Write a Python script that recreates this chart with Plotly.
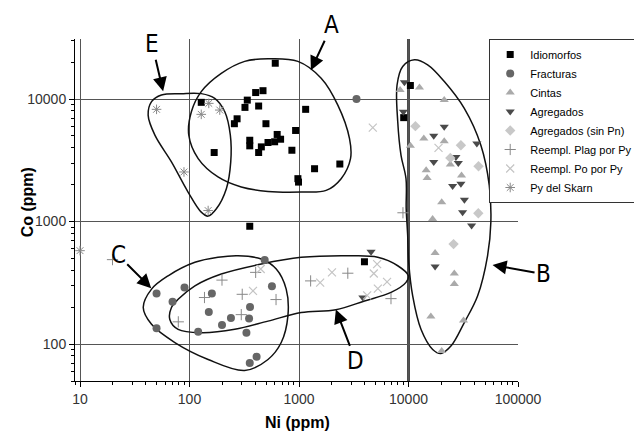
import numpy as np
import plotly.graph_objects as go

# ---------------- data (ppm) ----------------
idio_x = [607, 128, 402, 469, 337, 321, 428, 1150, 272, 257, 499, 931, 355, 355, 453, 428, 521, 632, 679, 599, 861, 168, 1387, 2360, 977, 990, 355, 3960, 10400, 9040]
idio_y = [19600, 9400, 11300, 11700, 9800, 8550, 8770, 8240, 6900, 6290, 6290, 5540, 4610, 4150, 4070, 3660, 4420, 5140, 4700, 4480, 3820, 3660, 2700, 2950, 2240, 2100, 916, 470, 12900, 7050]

frac_x = [3350, 50, 70, 90, 50, 120, 160, 150, 198, 239, 357, 350, 331, 566, 486, 410, 355]
frac_y = [10000, 259, 222, 290, 135, 126, 259, 183, 143, 163, 201, 162, 124, 297, 485, 79, 70]

cint_x = [12600, 8380, 21200, 13800, 21200, 10400, 24100, 14500, 14800, 30500, 20100, 16600, 17500, 26200, 26200, 16000, 31800, 20100]
cint_y = [12400, 11850, 9800, 4760, 4530, 4150, 2920, 2620, 2270, 2380, 1440, 1050, 553, 377, 310, 168, 156, 88]

agre_x = [9180, 8980, 21200, 17000, 42100, 17000, 27100, 28500, 25300, 30100, 32400, 31200, 37700, 17500, 4550, 3830]
agre_y = [13700, 7890, 5940, 5010, 4340, 3070, 3370, 3010, 1950, 2040, 1510, 1190, 927, 430, 567, 240]

sinpn_x = [11560, 30100, 24100, 43600, 43400, 25800]
sinpn_y = [6010, 4200, 3310, 2830, 1170, 655]

plag_x = [19.8, 198, 402, 137, 303, 297, 79, 617, 1277, 2790, 6920, 8900]
plag_y = [489, 333, 385, 240, 255, 174, 152, 231, 328, 379, 235, 1180]

po_x = [4720, 18800, 380, 447, 1560, 2000, 5170, 4820, 6370, 5250, 4190]
po_y = [5840, 3990, 272, 410, 318, 385, 449, 377, 322, 284, 250]

skarn_x = [50, 128, 150, 189, 89, 148, 10]
skarn_y = [8240, 7500, 9220, 8130, 2540, 1230, 579]

series_names = ["Idiomorfos", "Fracturas", "Cintas", "Agregados", "Agregados (sin Pn)",
                "Reempl. Plag por Py", "Reempl. Po por Py", "Py del Skarn"]

# ---------------- group outlines (ppm) ----------------
loopA_x = [521, 977, 1594, 2262, 2893, 2954, 2425, 1770, 1047, 521, 297, 182, 120, 98.5, 104, 128, 195, 319]
loopA_y = [21300, 20300, 14800, 8930, 4760, 3265, 2239, 1796, 1742, 1762, 1914, 2312, 3265, 5070, 7880, 11500, 16200, 20300]

loopE_x = [55.4, 84.4, 128, 170, 210, 236, 238, 217, 176, 148, 128, 97, 68.4, 48.3, 41.9, 45]
loopE_y = [10800, 11070, 11070, 10130, 7880, 5070, 3070, 1854, 1271, 1108, 1194, 1742, 3070, 5070, 7390, 9520]

loopB_x = [11320, 14960, 21250, 32330, 45800, 54640, 56500, 52720, 42730, 32330, 24400, 19780, 16620, 13000, 10920, 10040, 9830, 9530, 9490, 8545, 7975, 7860, 8853]
loopB_y = [20880, 19000, 13890, 8390, 4200, 1973, 989, 526, 247, 150, 96.3, 83.9, 90.5, 132, 247, 465, 768, 1271, 2239, 3475, 6530, 13020, 18440]

loopC_x = [45, 63.8, 112, 182, 277, 452, 620, 764, 792, 688, 521, 319, 148, 73.5, 45, 37.8]
loopC_y = [281, 361, 465, 511, 526, 495, 410, 281, 170, 103, 74.9, 60.9, 74.9, 103, 145, 199]

loopD_x = [78.7, 112, 195, 452, 1047, 3099, 5238, 7975, 9980, 9490, 6925, 3963, 2170, 1047, 521, 259, 128, 78.7, 66.1, 68.4]
loopD_y = [232, 299, 373, 450, 511, 526, 511, 436, 361, 319, 264, 225, 191, 181, 154, 132, 124, 132, 159, 199]

# group labels: letter, arrow tip (ppm), label offset (px)
grp_labels = ["A", "E", "C", "B", "D"]
grp_tip_x = [1284, 57.4, 44.7, 58560, 2170]
grp_tip_y = [17190, 11566, 286, 442, 192]
grp_dx = [21, -11, -33, 51, 20]
grp_dy = [-45, -47, -33, 9, 52]

x_ticks = [10, 100, 1000, 10000, 100000]
y_ticks = [100, 1000, 10000]

fig = go.Figure()

# outlines
for lx, ly in [(loopA_x, loopA_y), (loopE_x, loopE_y), (loopB_x, loopB_y),
               (loopC_x, loopC_y), (loopD_x, loopD_y)]:
    fig.add_trace(go.Scatter(x=lx + lx[:1], y=ly + ly[:1], mode="lines",
                             line=dict(color="#111", width=1.5, shape="spline", smoothing=1.0),
                             showlegend=False, hoverinfo="skip"))

styles = [
    (idio_x, idio_y, dict(symbol="square", size=7, color="#000")),
    (frac_x, frac_y, dict(symbol="circle", size=8, color="#666")),
    (cint_x, cint_y, dict(symbol="triangle-up", size=8, color="#aaaaaa")),
    (agre_x, agre_y, dict(symbol="triangle-down", size=8, color="#4a4a4a")),
    (sinpn_x, sinpn_y, dict(symbol="diamond", size=8, color="#c8c8c8")),
    (plag_x, plag_y, dict(symbol="cross-thin", size=8, color="#888", line=dict(color="#888", width=1))),
    (po_x, po_y, dict(symbol="x-thin", size=8, color="#c4c4c4", line=dict(color="#c4c4c4", width=1.2))),
    (skarn_x, skarn_y, dict(symbol="asterisk", size=8, color="#888", line=dict(color="#888", width=1))),
]
for name, (sx, sy, mk) in zip(series_names, styles):
    fig.add_trace(go.Scatter(x=sx, y=sy, mode="markers", name=name, marker=mk, cliponaxis=False))

# thicker line at 10000 ppm Ni
fig.add_shape(type="line", xref="x", yref="paper", x0=x_ticks[3], x1=x_ticks[3], y0=0, y1=1,
              line=dict(color="#111", width=2.5), layer="below")

letter_font = dict(family="Liberation Sans Narrow, DejaVu Sans Condensed, Liberation Sans, Arial",
                   size=24, color="#000")
for t, tx, ty, dx, dy in zip(grp_labels, grp_tip_x, grp_tip_y, grp_dx, grp_dy):
    fig.add_annotation(x=np.log10(tx), y=np.log10(ty), xref="x", yref="y", text=t,
                       showarrow=True, ax=dx, ay=dy, arrowhead=2, arrowsize=1.4,
                       arrowwidth=2, arrowcolor="#000", font=letter_font, standoff=0)

title_font = dict(family="Liberation Sans, Arial", size=16, color="#000")
fig.add_annotation(x=0.503, y=-0.122, xref="paper", yref="paper", text="<b>Ni (ppm)</b>",
                   showarrow=False, font=title_font, xanchor="center", yanchor="middle")
fig.add_annotation(x=-0.108, y=0.523, xref="paper", yref="paper", text="<b>Co (ppm)</b>",
                   showarrow=False, font=title_font, textangle=-90, xanchor="center", yanchor="middle")

axis_common = dict(
    type="log", showline=True, linecolor="#000", linewidth=1,
    ticks="outside", ticklen=5, tickcolor="#000", tickwidth=1,
    showgrid=True, gridcolor="#555", gridwidth=1.2, zeroline=False,
    tickmode="linear", dtick=1, tickformat="d",
    tickfont=dict(family="Liberation Sans, Arial", size=14, color="#333"),
    minor=dict(ticks="outside", ticklen=3, tickcolor="#000", dtick="D1", showgrid=False),
)
fig.update_xaxes(range=[np.log10(9.0), np.log10(x_ticks[-1])], **axis_common)
fig.update_yaxes(range=[np.log10(50), 4.49], **axis_common)

fig.update_layout(
    width=642, height=431,
    margin=dict(l=67, r=132, t=31, b=58),
    paper_bgcolor="white", plot_bgcolor="white",
    font=dict(family="Liberation Sans, Arial", color="#000"),
    legend=dict(x=0.935, y=1.0, xanchor="left", yanchor="top",
                bgcolor="white", bordercolor="#333", borderwidth=1,
                font=dict(family="Liberation Sans, Arial", size=11, color="#000")),
)

fig.write_html("out.html")
